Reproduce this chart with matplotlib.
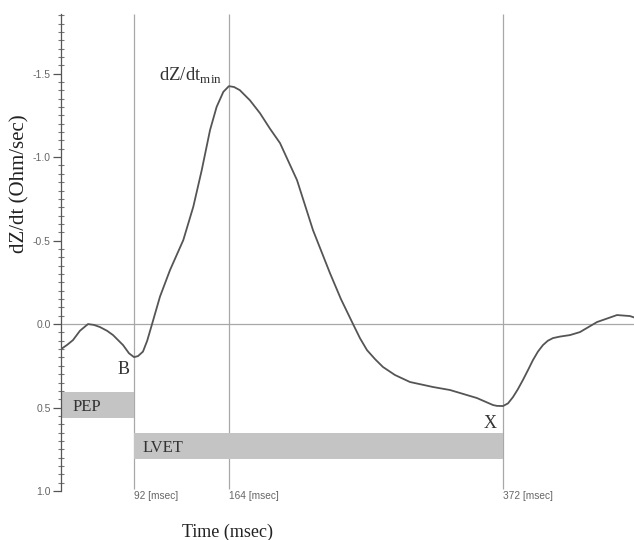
import numpy as np
import matplotlib
matplotlib.use("Agg")
import matplotlib.pyplot as plt

plt.rcParams['mathtext.fontset'] = 'custom'
plt.rcParams['mathtext.rm'] = 'Liberation Serif'

# impedance cardiogram trace
t_ms = [36.6, 41.2, 45.7, 51.0, 57.1, 61.6, 66.2, 71.5, 76.1, 79.9, 83.7,
        88.2, 92.0, 95.0, 98.8, 102.0, 105.7, 111.7, 119.3, 129.4, 137.0,
        143.4, 149.7, 154.7, 159.8, 164.0, 167.9, 172.3, 180.0, 187.6, 195.2,
        202.8, 215.7, 227.8, 240.7, 249.0, 258.2, 263.5, 268.8, 274.9, 280.9,
        290.0, 301.4, 309.0, 318.9, 331.8, 352.2, 364.4, 367.4, 372.0, 375.8,
        379.6, 383.3, 387.1, 391.0, 394.7, 398.5, 402.3, 406.0, 409.9, 415.2,
        422.8, 430.4, 443.3, 458.5, 468.3, 471.4]
dzdt = [0.150, 0.125, 0.096, 0.040, 0.000, 0.005, 0.018, 0.040, 0.066, 0.096,
        0.126, 0.175, 0.198, 0.192, 0.165, 0.100, 0.000, -0.164, -0.323,
        -0.503, -0.703, -0.922, -1.162, -1.301, -1.391, -1.425, -1.420, -1.401,
        -1.340, -1.263, -1.170, -1.084, -0.862, -0.563, -0.305, -0.150, 0.000,
        0.085, 0.156, 0.210, 0.257, 0.305, 0.347, 0.360, 0.377, 0.395, 0.443,
        0.485, 0.490, 0.491, 0.475, 0.437, 0.390, 0.335, 0.275, 0.216, 0.165,
        0.126, 0.100, 0.084, 0.075, 0.066, 0.048, -0.012, -0.054, -0.048,
        -0.040]

markers = [92, 164, 372]        # B, dZ/dt min, X
marker_labels = ['92 [msec]', '164 [msec]', '372 [msec]']
pep = (36.6, 92, 0.405, 0.565)   # t0, t1, v0, v1
lvet = (92, 372, 0.655, 0.81)

ytick_vals = [-1.5, -1.0, -0.5, 0.0, 0.5, 1.0]
ytick_labels = ['-1.5', '-1.0', '-0.5', '0.0', '0.5', '1.0']

fig = plt.figure(figsize=(6.34, 5.40), dpi=100)
ax = fig.add_axes([0.0962, 0.0907, 0.9038, 0.883])

ax.set_xlim(36.6, 471.4)
ax.set_ylim(1.0, -1.856)

grey = '#a8a8a8'
ax.axhline(0, color=grey, lw=0.9, zorder=1)
ax.vlines(markers, -1.856, 0.99, color=grey, lw=0.9, zorder=1)

for (a, b, c, d), name, tx in [(pep, 'PEP', 45), (lvet, 'LVET', 98.8)]:
    ax.fill_between([a, b], c, d, color='#c4c4c4', lw=0, zorder=2)
    ax.text(tx, (c + d) / 2 + 0.01, name, family='Liberation Serif',
            fontsize=12, color='#333333', va='center', ha='left', zorder=3)

ax.plot(t_ms, dzdt, color='#555555', lw=1.3, zorder=4)

for m, lab in zip(markers, marker_labels):
    ax.text(m, 1.0, lab, family='Liberation Sans', fontsize=7.3,
            color='#666666', ha='left', va='top', clip_on=False)

ax.text(84.4, 0.27, 'B', family='Liberation Serif', fontsize=13,
        color='#333333', ha='center', va='center')
ax.text(362, 0.593, 'X', family='Liberation Serif', fontsize=13,
        color='#333333', ha='center', va='center')
ax.text(111, -1.46, r'dZ/dt$_{\mathrm{min}}$', family='Liberation Serif',
        fontsize=13.5, color='#333333', ha='left', va='baseline')

ax.set_yticks(ytick_vals)
ax.set_yticklabels(ytick_labels, family='Liberation Sans', fontsize=7.5,
                   color='#666666')
ax.set_yticks(np.arange(-1.85, 1.0001, 0.05), minor=True)
ax.tick_params(axis='y', which='major', length=6, width=0.9, color='#555555',
               pad=1.5, direction='out')
ax.tick_params(axis='y', which='minor', length=4, width=0.8, color='#777777',
               direction='inout')
ax.set_xticks([])

for s in ['top', 'right', 'bottom']:
    ax.spines[s].set_visible(False)
ax.spines['left'].set_color('#555555')
ax.spines['left'].set_linewidth(0.9)

ax.text(-0.0725, 0.645, 'dZ/dt (Ohm/sec)', transform=ax.transAxes,
        rotation=90, family='Liberation Serif', fontsize=15, color='#222222',
        ha='center', va='center')
fig.text(228 / 634, 1 - 532 / 540, 'Time (msec)', family='Liberation Serif',
         fontsize=13, color='#222222', ha='center', va='center')

fig.savefig('out.png', dpi=100)
